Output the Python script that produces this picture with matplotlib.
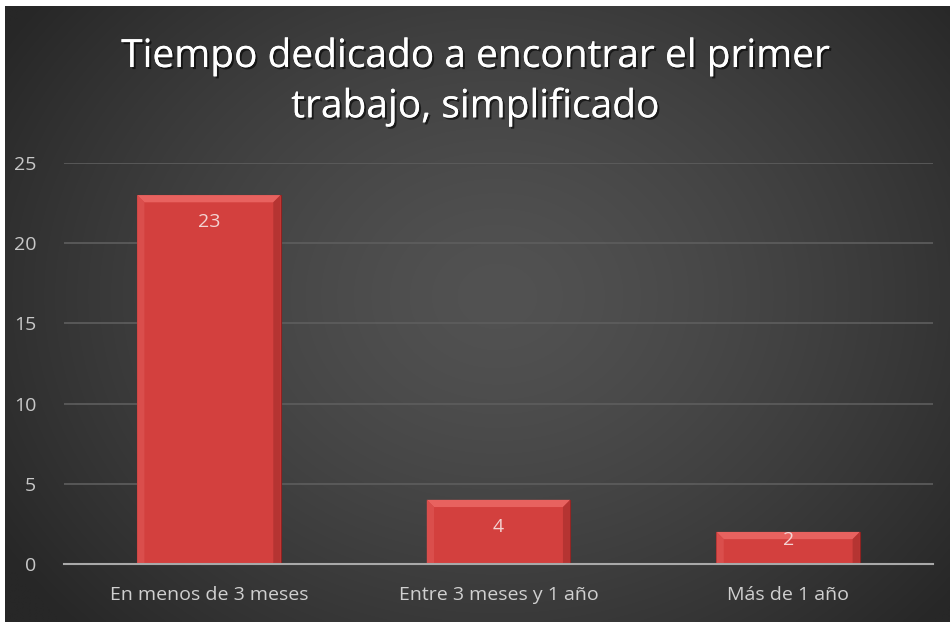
import numpy as np
import matplotlib
matplotlib.use("Agg")
import matplotlib.pyplot as plt
import matplotlib.patheffects as pe
from matplotlib.patches import Polygon

categories = ["En menos de 3 meses", "Entre 3 meses y 1 año", "Más de 1 año"]
values = [23, 4, 2]
yticks = [0, 5, 10, 15, 20, 25]
title_lines = ["Tiempo dedicado a encontrar el primer", "trabajo, simplificado"]

W, H = 950, 622
fig = plt.figure(figsize=(W / 100, H / 100), dpi=100)
fig.patch.set_facecolor("white")

# background radial gradient
bg = fig.add_axes([5 / W, 0, 1 - 5 / W, 1 - 6 / H])
bg.set_axis_off()
ny, nx = 300, 460
yy, xx = np.mgrid[0:ny, 0:nx]
cx, cy = nx * 0.52, ny * 0.47
r = np.sqrt(((xx - cx) / (nx * 0.62)) ** 2 + ((yy - cy) / (ny * 0.78)) ** 2)
r = np.clip(r, 0, 1)
val = 0x52 - (0x52 - 0x27) * r ** 1.4
img = np.dstack([val, val, val]) / 255.0
bg.imshow(img, aspect="auto", extent=[0, 1, 0, 1], interpolation="bilinear")
bg.set_xlim(0, 1)
bg.set_ylim(0, 1)

# plot area
x0, x1 = 64 / W, 933 / W
y0, y1 = 1 - 564 / H, 1 - 163 / H
ax = fig.add_axes([x0, y0, x1 - x0, y1 - y0])
ax.patch.set_alpha(0)
x = np.arange(len(categories))
bw = 0.495
ax.set_xlim(-0.5, len(categories) - 0.5)
ax.set_ylim(0, 25)
ax.set_yticks(yticks)
ax.yaxis.grid(True, color="#5e5e5e", linewidth=1.2)
ax.set_axisbelow(True)
for s in ["top", "right", "left"]:
    ax.spines[s].set_visible(False)
ax.spines["bottom"].set_color("#a9a9a9")
ax.spines["bottom"].set_linewidth(1.5)
ax.spines["bottom"].set_zorder(5)
ax.tick_params(axis="both", length=0, colors="#c8c8c8", labelsize=14)
ax.tick_params(axis="y", pad=20)
ax.tick_params(axis="x", pad=16)
ax.set_xticks(x)
ax.set_xticklabels(categories, fontfamily="Open Sans", color="#d0d0d0")
for lbl in ax.get_yticklabels():
    lbl.set_fontfamily("Open Sans")

bars = ax.bar(x, values, width=bw, color="#d3403e", edgecolor="#8e2221", linewidth=0.8, zorder=3)

# bevel effect
bev_y = 0.45
bev_x = 0.025
for xi, v in zip(x, values):
    l, rr = xi - bw / 2, xi + bw / 2
    top = Polygon([[l, v], [rr, v], [rr - bev_x, v - bev_y], [l + bev_x, v - bev_y]],
                  closed=True, facecolor="#e8625f", edgecolor="none", zorder=4)
    ax.add_patch(top)
    left = Polygon([[l, v], [l + bev_x, v - bev_y], [l + bev_x, 0], [l, 0]],
                   closed=True, facecolor="#da4e4c", edgecolor="none", zorder=4)
    ax.add_patch(left)
    right = Polygon([[rr, v], [rr - bev_x, v - bev_y], [rr - bev_x, 0], [rr, 0]],
                    closed=True, facecolor="#b53432", edgecolor="none", zorder=4)
    ax.add_patch(right)
    off = min(1.7, max(0.5, v - 2.2))
    ax.text(xi, v - off, str(v), ha="center", va="center", fontsize=14,
            color="#f3d3d2", fontfamily="Open Sans", zorder=6)

shadow = [pe.withSimplePatchShadow(offset=(1.5, -1.5), shadow_rgbFace="black", alpha=0.6),
          pe.Normal()]
for line, ypix in zip(title_lines, [57, 107]):
    fig.text(0.5, 1 - ypix / H, line, ha="center", va="center", fontsize=28,
             color="white", fontfamily="Open Sans", fontweight="medium",
             path_effects=shadow)

fig.savefig("out.png", dpi=100, facecolor=fig.get_facecolor())
